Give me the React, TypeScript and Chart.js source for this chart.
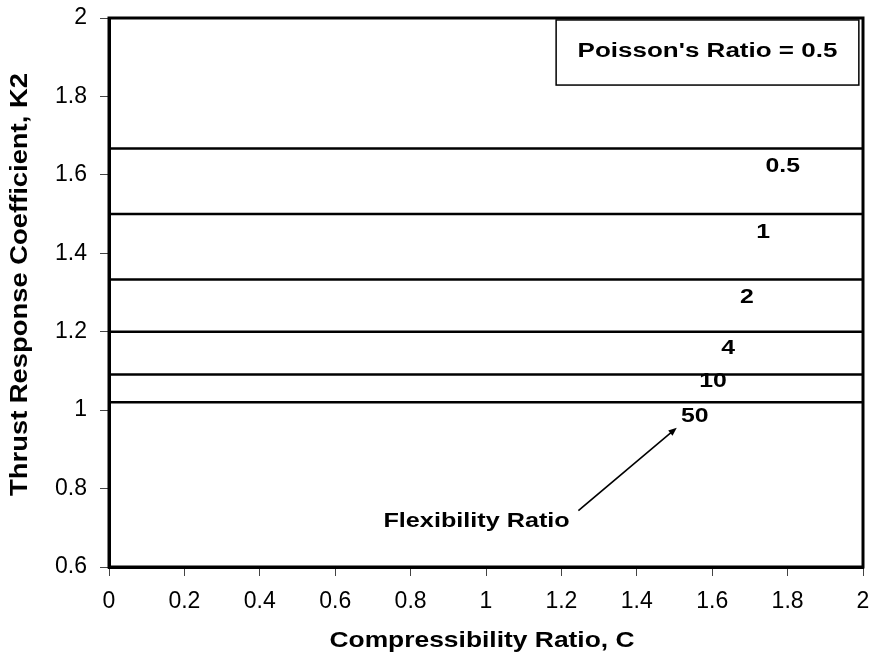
import React, { useEffect, useRef } from "react";
import { Chart, registerables } from "chart.js";

Chart.register(...registerables);

// ---- data ----
const compressibilityRange = [0, 2];
const flexibilityRatios = ["0.5", "1", "2", "4", "10", "50"];
const k2Values = [1.667, 1.5, 1.333, 1.2, 1.091, 1.02];
const ratioLabelX = [1.787, 1.735, 1.692, 1.642, 1.602, 1.554];
const ratioLabelY = [1.621, 1.454, 1.288, 1.158, 1.072, 0.983];
const xMin = 0;
const xMax = 2;
const yMin = 0.6;
const yMax = 2;
const tickStep = 0.2;
const xTitle = "Compressibility Ratio, C";
const yTitle = "Thrust Response Coefficient, K2";
const boxText = "Poisson's Ratio = 0.5";
const noteText = "Flexibility Ratio";
// annotation anchors in data coordinates
const boxCorners = [1.186, 1.995, 1.989, 1.829]; // x1, y1, x2, y2
const noteAnchor = [0.975, 0.716];
const arrowFrom = [1.245, 0.744];
const arrowTo = [1.506, 0.955];

const FONT = "'Liberation Sans', Arial, Helvetica, sans-serif";

function drawText(
  ctx: CanvasRenderingContext2D,
  text: string,
  x: number,
  y: number,
  font: string,
  sx: number,
  rotate = 0,
  sy = 1
) {
  ctx.save();
  ctx.translate(x, y);
  if (rotate) ctx.rotate(rotate);
  ctx.scale(sx, sy);
  ctx.font = font;
  ctx.fillStyle = "#000";
  ctx.textAlign = "center";
  ctx.textBaseline = "middle";
  ctx.fillText(text, 0, 0);
  ctx.restore();
}

const fmtTick = (v: any) => String(Number(Number(v).toFixed(1)));

const annotationPlugin = {
  id: "annotations",
  afterDraw(chart: any) {
    const { ctx, chartArea, scales } = chart;
    const xs = scales.x;
    const ys = scales.y;
    const px = (v: number) => xs.getPixelForValue(v);
    const py = (v: number) => ys.getPixelForValue(v);

    ctx.save();
    // plot frame
    ctx.strokeStyle = "#000";
    ctx.lineWidth = 3;
    ctx.strokeRect(
      chartArea.left,
      chartArea.top,
      chartArea.right - chartArea.left,
      chartArea.bottom - chartArea.top
    );

    // ratio labels
    flexibilityRatios.forEach((t, i) => {
      drawText(ctx, t, px(ratioLabelX[i]), py(ratioLabelY[i]), `bold 20px ${FONT}`, 1.24);
    });

    // Poisson box
    const bx1 = px(boxCorners[0]);
    const by1 = py(boxCorners[1]);
    const bx2 = px(boxCorners[2]);
    const by2 = py(boxCorners[3]);
    ctx.fillStyle = "#fff";
    ctx.fillRect(bx1, by1, bx2 - bx1, by2 - by1);
    ctx.strokeStyle = "#000";
    ctx.lineWidth = 1.5;
    ctx.strokeRect(bx1, by1, bx2 - bx1, by2 - by1);
    drawText(ctx, boxText, (bx1 + bx2) / 2, (by1 + by2) / 2 - 1, `bold 20px ${FONT}`, 1.3);

    // note + arrow
    drawText(ctx, noteText, px(noteAnchor[0]), py(noteAnchor[1]), `bold 21px ${FONT}`, 1.2);
    const ax1 = px(arrowFrom[0]);
    const ay1 = py(arrowFrom[1]);
    const ax2 = px(arrowTo[0]);
    const ay2 = py(arrowTo[1]);
    const ang = Math.atan2(ay2 - ay1, ax2 - ax1);
    const head = 9;
    ctx.strokeStyle = "#000";
    ctx.lineWidth = 1.6;
    ctx.beginPath();
    ctx.moveTo(ax1, ay1);
    ctx.lineTo(ax2 - Math.cos(ang) * head * 0.8, ay2 - Math.sin(ang) * head * 0.8);
    ctx.stroke();
    ctx.fillStyle = "#000";
    ctx.beginPath();
    ctx.moveTo(ax2, ay2);
    ctx.lineTo(ax2 - Math.cos(ang - 0.38) * head, ay2 - Math.sin(ang - 0.38) * head);
    ctx.lineTo(ax2 - Math.cos(ang + 0.38) * head, ay2 - Math.sin(ang + 0.38) * head);
    ctx.closePath();
    ctx.fill();

    // axis titles
    const cx = (chartArea.left + chartArea.right) / 2 - 4;
    drawText(ctx, xTitle, cx, chartArea.bottom + 74, `bold 22px ${FONT}`, 1.2);
    const cy = (chartArea.top + chartArea.bottom) / 2 - 8;
    drawText(ctx, yTitle, 21, cy, `bold 23px ${FONT}`, 1.19, -Math.PI / 2);
    ctx.restore();
  },
};

export default function App() {
  const canvasRef = useRef<HTMLCanvasElement | null>(null);

  useEffect(() => {
    const canvas = canvasRef.current;
    if (!canvas) return;
    const datasets = k2Values.map((v, i) => ({
      label: "Flexibility Ratio " + flexibilityRatios[i],
      data: compressibilityRange.map((x) => ({ x, y: v })),
      showLine: true,
      borderColor: "#000",
      borderWidth: 2.5,
      pointRadius: 0,
      pointHoverRadius: 0,
      fill: false,
    }));

    const chart = new Chart(canvas, {
      type: "scatter",
      data: { datasets },
      options: {
        animation: false,
        responsive: false,
        maintainAspectRatio: false,
        devicePixelRatio: 1,
        layout: { padding: { top: 18, right: 10, left: 0, bottom: 0 } },
        plugins: {
          legend: { display: false },
          tooltip: { enabled: false },
          title: { display: false },
        },
        scales: {
          x: {
            type: "linear",
            min: xMin,
            max: xMax,
            ticks: {
              stepSize: tickStep,
              color: "#000",
              font: { family: FONT, size: 23 },
              padding: 12,
              maxRotation: 0,
              autoSkip: false,
              callback: fmtTick,
            },
            grid: {
              drawOnChartArea: false,
              drawTicks: true,
              tickLength: 9,
              color: "#444",
              lineWidth: 1,
            },
            border: { display: true, color: "#000", width: 3 },
            afterFit: (s: any) => {
              s.height = 89;
              s.paddingLeft = 0;
              s.paddingRight = 0;
            },
          },
          y: {
            type: "linear",
            min: yMin,
            max: yMax,
            ticks: {
              stepSize: tickStep,
              color: "#000",
              font: { family: FONT, size: 23 },
              padding: 13,
              autoSkip: false,
              callback: fmtTick,
            },
            grid: {
              drawOnChartArea: false,
              drawTicks: true,
              tickLength: 9,
              color: "#444",
              lineWidth: 1,
            },
            border: { display: true, color: "#000", width: 3 },
            afterFit: (s: any) => {
              s.width = 109;
              s.paddingTop = 0;
              s.paddingBottom = 0;
            },
          },
        },
      },
      plugins: [annotationPlugin],
    });
    return () => chart.destroy();
  }, []);

  return (
    <div style={{ position: "absolute", left: 0, top: 0, width: 873, height: 656, background: "#fff" }}>
      <canvas ref={canvasRef} width={873} height={656} style={{ display: "block", width: 873, height: 656 }} />
    </div>
  );
}
